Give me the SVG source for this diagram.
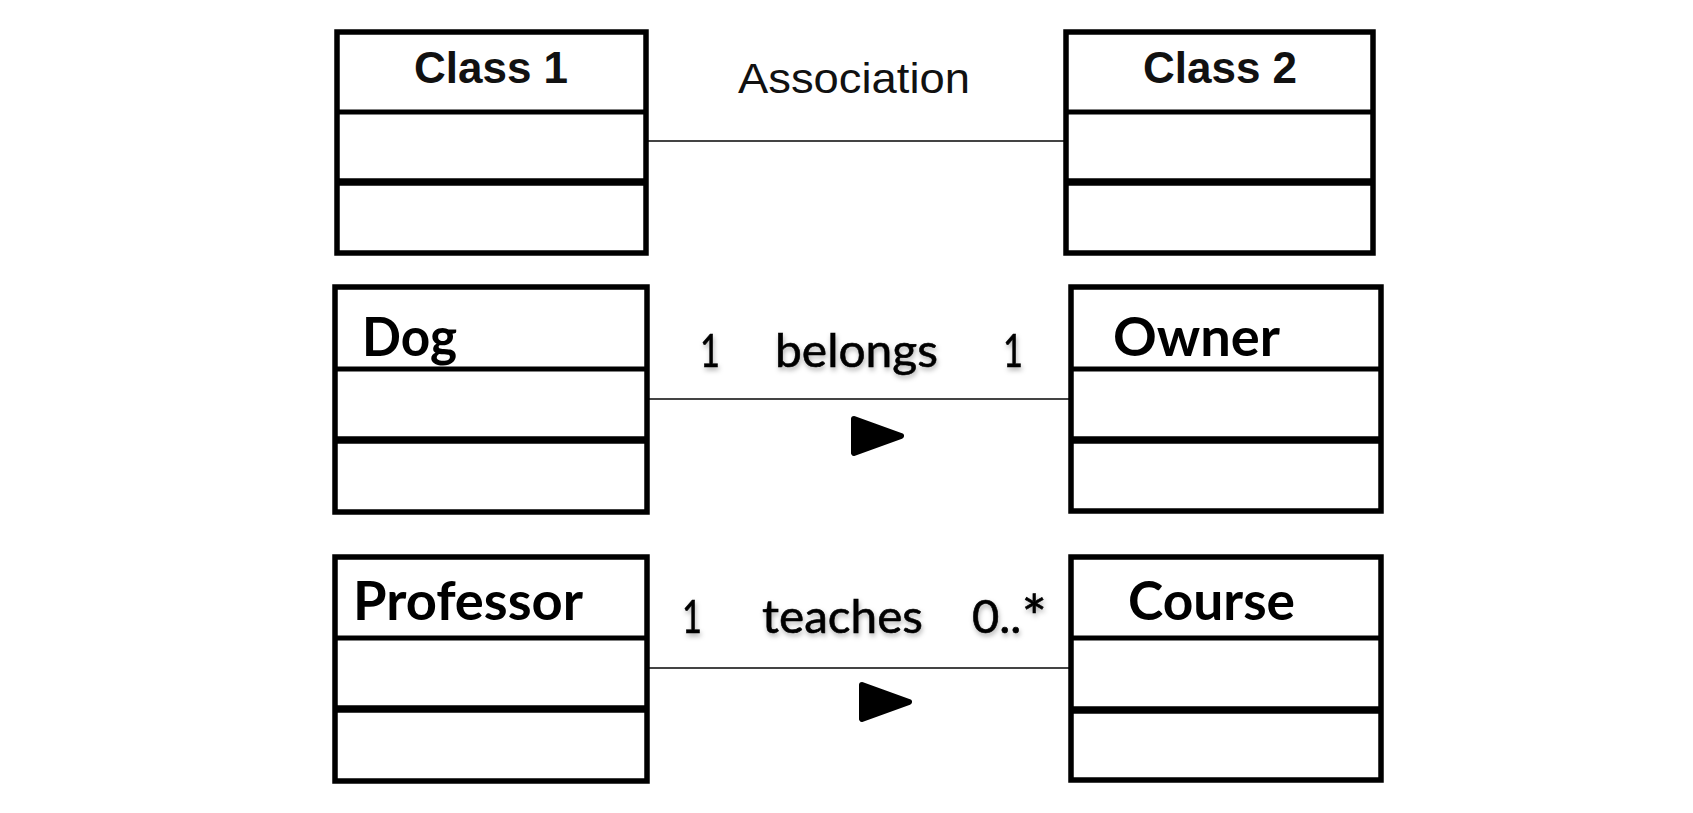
<svg xmlns="http://www.w3.org/2000/svg" width="1693" height="813" viewBox="0 0 1693 813">
<style>
.box{fill:#fff;stroke:#000;stroke-width:5.5}
.div1{stroke:#000;stroke-width:5}
.div2{stroke:#000;stroke-width:7.5}
.conn{stroke:#444;stroke-width:2;fill:none}
.ttl{font-family:"Liberation Sans",Arial,sans-serif;font-weight:bold;font-size:44px;fill:#111;text-anchor:middle}
.assoc{font-family:"Liberation Sans",Arial,sans-serif;font-size:43px;fill:#111}
.name{font-family:Lato,"Open Sans",sans-serif;font-weight:bold;font-size:53px;fill:#000}
.lbl{font-family:Lato,"Open Sans",sans-serif;font-size:47px;fill:#000;stroke:#000;stroke-width:0.6;filter:url(#sh)}
.dir{fill:#000;stroke:#000;stroke-width:6;stroke-linejoin:round}
</style>
<defs>
<filter id="sh" x="-20%" y="-30%" width="140%" height="170%">
<feDropShadow dx="1" dy="3" stdDeviation="2.5" flood-color="#000" flood-opacity="0.3"/>
</filter>
</defs>
<rect width="1693" height="813" fill="#fff"/>
<g id="connectors">
<line class="conn" x1="648" y1="141" x2="1066" y2="141"/>
<line class="conn" x1="649" y1="399" x2="1070" y2="399"/>
<line class="conn" x1="649" y1="668" x2="1070" y2="668"/>
<text class="assoc" x="738" y="93" textLength="232" lengthAdjust="spacingAndGlyphs">Association</text>
<text class="lbl" x="700" y="367" textLength="20" lengthAdjust="spacingAndGlyphs">1</text>
<text class="lbl" x="775" y="367" textLength="163" lengthAdjust="spacingAndGlyphs">belongs</text>
<text class="lbl" x="1003" y="367" textLength="20" lengthAdjust="spacingAndGlyphs">1</text>
<polygon class="dir" points="854,419 901,436 854,453"/>
<text class="lbl" x="682" y="633" textLength="20" lengthAdjust="spacingAndGlyphs">1</text>
<text class="lbl" x="762" y="633" textLength="161" lengthAdjust="spacingAndGlyphs">teaches</text>
<text class="lbl" x="972" y="633">0..<tspan font-size="60" dy="6">*</tspan></text>
<polygon class="dir" points="862,685 909,702 862,719"/>
</g>
<g id="class1">
<rect class="box" x="337" y="32" width="309" height="221"/>
<line class="div1" x1="337" y1="112" x2="646" y2="112"/>
<line class="div2" x1="337" y1="182" x2="646" y2="182"/>
<text class="ttl" x="491" y="83">Class 1</text>
</g>
<g id="class2">
<rect class="box" x="1066" y="32" width="307" height="221"/>
<line class="div1" x1="1066" y1="112" x2="1373" y2="112"/>
<line class="div2" x1="1066" y1="182" x2="1373" y2="182"/>
<text class="ttl" x="1220" y="83">Class 2</text>
</g>
<g id="dog">
<rect class="box" x="335" y="287" width="312" height="225"/>
<line class="div1" x1="335" y1="369" x2="647" y2="369"/>
<line class="div2" x1="335" y1="440" x2="647" y2="440"/>
<text class="name" x="362" y="356" textLength="95" lengthAdjust="spacingAndGlyphs">Dog</text>
</g>
<g id="owner">
<rect class="box" x="1071" y="287" width="310" height="224"/>
<line class="div1" x1="1071" y1="369" x2="1381" y2="369"/>
<line class="div2" x1="1071" y1="440" x2="1381" y2="440"/>
<text class="name" x="1113" y="356" textLength="167" lengthAdjust="spacingAndGlyphs">Owner</text>
</g>
<g id="professor">
<rect class="box" x="335" y="557" width="312" height="224"/>
<line class="div1" x1="335" y1="638" x2="647" y2="638"/>
<line class="div2" x1="335" y1="709" x2="647" y2="709"/>
<text class="name" x="353" y="620" textLength="230" lengthAdjust="spacingAndGlyphs">Professor</text>
</g>
<g id="course">
<rect class="box" x="1071" y="557" width="310" height="223"/>
<line class="div1" x1="1071" y1="638" x2="1381" y2="638"/>
<line class="div2" x1="1071" y1="710" x2="1381" y2="710"/>
<text class="name" x="1128" y="620" textLength="167" lengthAdjust="spacingAndGlyphs">Course</text>
</g>
</svg>
